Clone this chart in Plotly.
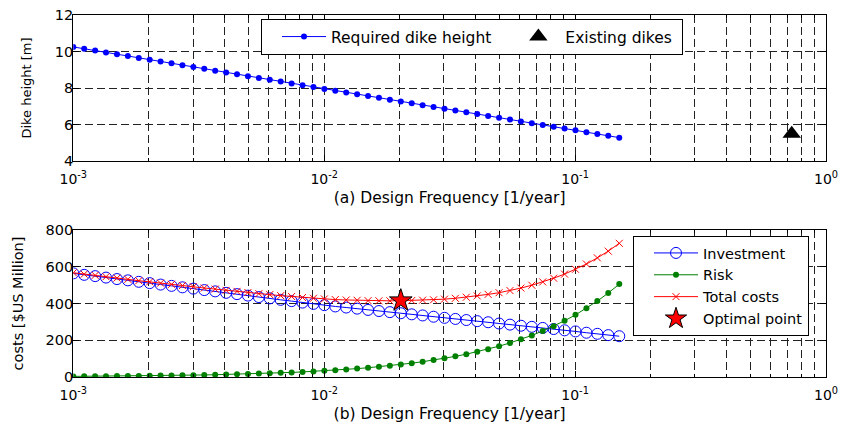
import plotly.graph_objects as go

# ---------------- data ----------------
freq = [0.001000, 0.001105, 0.001222, 0.001350, 0.001493, 0.001650, 0.001824, 0.002016,
        0.002228, 0.002463, 0.002723, 0.003010, 0.003327, 0.003677, 0.004065, 0.004493,
        0.004967, 0.005490, 0.006069, 0.006708, 0.007415, 0.008197, 0.009061, 0.010016,
        0.011071, 0.012238, 0.013528, 0.014954, 0.016530, 0.018272, 0.020198, 0.022327,
        0.024680, 0.027281, 0.030156, 0.033334, 0.036848, 0.040731, 0.045024, 0.049770,
        0.055015, 0.060814, 0.067223, 0.074308, 0.082140, 0.090797, 0.100367, 0.110945,
        0.122638, 0.135564, 0.150000]

dike_height = [10.25, 10.15, 10.05, 9.95, 9.85, 9.75, 9.65, 9.55, 9.45, 9.35,
               9.25, 9.15, 9.05, 8.95, 8.85, 8.75, 8.65, 8.55, 8.45, 8.35,
               8.25, 8.15, 8.05, 7.95, 7.85, 7.76, 7.66, 7.56, 7.46, 7.36,
               7.26, 7.16, 7.06, 6.96, 6.86, 6.77, 6.67, 6.57, 6.47, 6.37,
               6.27, 6.17, 6.07, 5.97, 5.87, 5.78, 5.68, 5.58, 5.48, 5.38, 5.28]

existing_freq = [0.73]
existing_height = [5.5]

investment = [564, 556, 549, 541, 533, 526, 518, 511, 503, 496,
              488, 481, 473, 466, 458, 451, 443, 435, 428, 420,
              413, 405, 398, 391, 384, 378, 372, 365, 359, 353,
              347, 341, 335, 328, 322, 316, 310, 304, 298, 291,
              285, 279, 273, 267, 261, 254, 248, 241, 235, 228, 222]

risk = [3.4, 3.7, 4.1, 4.5, 5.0, 5.6, 6.1, 6.8, 7.5, 8.3,
        9.2, 10.1, 11.2, 12.4, 13.7, 15.1, 16.7, 18.5, 20.4, 22.6,
        25.0, 27.6, 30.5, 33.8, 37.3, 41.2, 45.6, 50.4, 55.7, 61.6,
        68.1, 75.2, 83.2, 91.9, 101.6, 112.3, 124.2, 137.3, 151.7, 167.7,
        185.4, 204.9, 226.5, 250.4, 276.8, 306.0, 338.2, 373.9, 413.3, 456.9, 505.5]

total_costs = [567.4, 559.7, 553.1, 545.5, 538.0, 531.6, 524.1, 517.8, 510.5, 504.3,
               497.2, 491.1, 484.2, 478.4, 471.7, 466.1, 459.7, 453.5, 448.4, 442.6,
               438.0, 432.6, 428.5, 424.8, 421.3, 419.2, 417.6, 415.4, 414.7, 414.6,
               415.1, 416.2, 418.2, 419.9, 423.6, 428.3, 434.2, 441.3, 449.7, 458.7,
               470.4, 483.9, 499.5, 517.4, 537.8, 560.0, 586.2, 614.9, 648.3, 684.9, 727.5]

optimal_freq = [0.0202]
optimal_cost = [416]

x_tickvals = [0.001, 0.01, 0.1, 1]
x_ticktext = ["10<sup>-3</sup>", "10<sup>-2</sup>", "10<sup>-1</sup>", "10<sup>0</sup>"]
top_yticks = [4, 6, 8, 10, 12]
bot_yticks = [0, 200, 400, 600, 800]

# ---------------- figure ----------------
W, H = 842, 424
FONT = "DejaVu Sans"
BLUE, GREEN, RED = "#0000FF", "#008000", "#FF0000"
NB = "\u00a0"

fig = go.Figure()

fig.add_trace(go.Scatter(x=freq, y=dike_height, mode="lines+markers", name="Required dike height",
                         line=dict(color=BLUE, width=1), marker=dict(symbol="circle", size=6, color=BLUE),
                         xaxis="x", yaxis="y", legend="legend"))
fig.add_trace(go.Scatter(x=existing_freq, y=existing_height, mode="markers", name="Existing dikes" + NB,
                         marker=dict(symbol="triangle-up", size=16, color="black"),
                         xaxis="x", yaxis="y", legend="legend"))

fig.add_trace(go.Scatter(x=freq, y=investment, mode="lines+markers", name="Investment",
                         line=dict(color=BLUE, width=1),
                         marker=dict(symbol="circle-open", size=11, color=BLUE, line=dict(width=1)),
                         xaxis="x2", yaxis="y2", legend="legend2"))
fig.add_trace(go.Scatter(x=freq, y=risk, mode="lines+markers", name="Risk",
                         line=dict(color=GREEN, width=1), marker=dict(symbol="circle", size=6, color=GREEN),
                         xaxis="x2", yaxis="y2", legend="legend2"))
fig.add_trace(go.Scatter(x=freq, y=total_costs, mode="lines+markers", name="Total costs",
                         line=dict(color=RED, width=1),
                         marker=dict(symbol="x-thin-open", size=7, color=RED, line=dict(width=1, color=RED)),
                         xaxis="x2", yaxis="y2", legend="legend2"))
fig.add_trace(go.Scatter(x=optimal_freq, y=optimal_cost, mode="markers", name="Optimal point",
                         marker=dict(symbol="star", size=17, color=RED, line=dict(width=1, color="black")),
                         xaxis="x2", yaxis="y2", legend="legend2"))

x0, x1 = 73.3 / W, 826 / W
top_dom = [1 - 161 / H, 1 - 15 / H]
bot_dom = [1 - 377 / H, 1 - 230 / H]

DASH = "8px,4px"
grid = dict(showgrid=True, gridcolor="#222", griddash=DASH, gridwidth=1)
common_x = dict(type="log", range=[-3, 0], tickvals=x_tickvals, ticktext=x_ticktext,
                showline=True, linecolor="black", linewidth=1.3, mirror="ticks",
                ticks="inside", ticklen=6, tickcolor="black", zeroline=False, automargin=False,
                ticklabelstandoff=5,
                tickfont=dict(family=FONT, size=14, color="black"),
                minor=dict(dtick="D1", showgrid=True, gridcolor="#222", griddash=DASH,
                           gridwidth=1, ticks="inside", ticklen=3, tickcolor="black"),
                domain=[x0, x1], **grid)
common_y = dict(showline=True, linecolor="black", linewidth=1.3, mirror="ticks",
                ticks="inside", ticklen=6, tickcolor="black", zeroline=False, automargin=False,
                ticklabelstandoff=-4,
                tickfont=dict(family=FONT, size=14.5, color="black"), **grid)

leg_common = dict(bgcolor="white", bordercolor="black", borderwidth=1,
                  itemwidth=44, indentation=15, xanchor="left", yanchor="top")

fig.update_layout(
    width=W, height=H, margin=dict(l=0, r=0, t=0, b=0),
    paper_bgcolor="white", plot_bgcolor="white",
    font=dict(family=FONT, color="black"),
    xaxis=dict(anchor="y", title=dict(text="(a) Design Frequency [1/year]", font=dict(size=15.5), standoff=6),
               **common_x),
    yaxis=dict(anchor="x", domain=top_dom, range=[4, 12], tickvals=top_yticks,
               title=dict(text="Dike height [m]", font=dict(size=13), standoff=20), **common_y),
    xaxis2=dict(anchor="y2", title=dict(text="(b) Design Frequency [1/year]", font=dict(size=15.5), standoff=6),
                **common_x),
    yaxis2=dict(anchor="x2", domain=bot_dom, range=[0, 800], tickvals=bot_yticks,
                title=dict(text="costs [$US Million]", font=dict(size=14.5), standoff=18), **common_y),
    legend=dict(orientation="h", x=261 / W, y=1 - 19 / H,
                font=dict(family=FONT, size=15.5, color="black"), **leg_common),
    legend2=dict(orientation="v", x=633 / W, y=1 - 236 / H, tracegroupgap=0,
                 font=dict(family=FONT, size=14.5, color="black"), **leg_common),
    showlegend=True,
)

fig.write_html("out.html", config={"displayModeBar": False},
               post_script="document.body.style.margin='0';document.body.style.overflow='hidden';")
